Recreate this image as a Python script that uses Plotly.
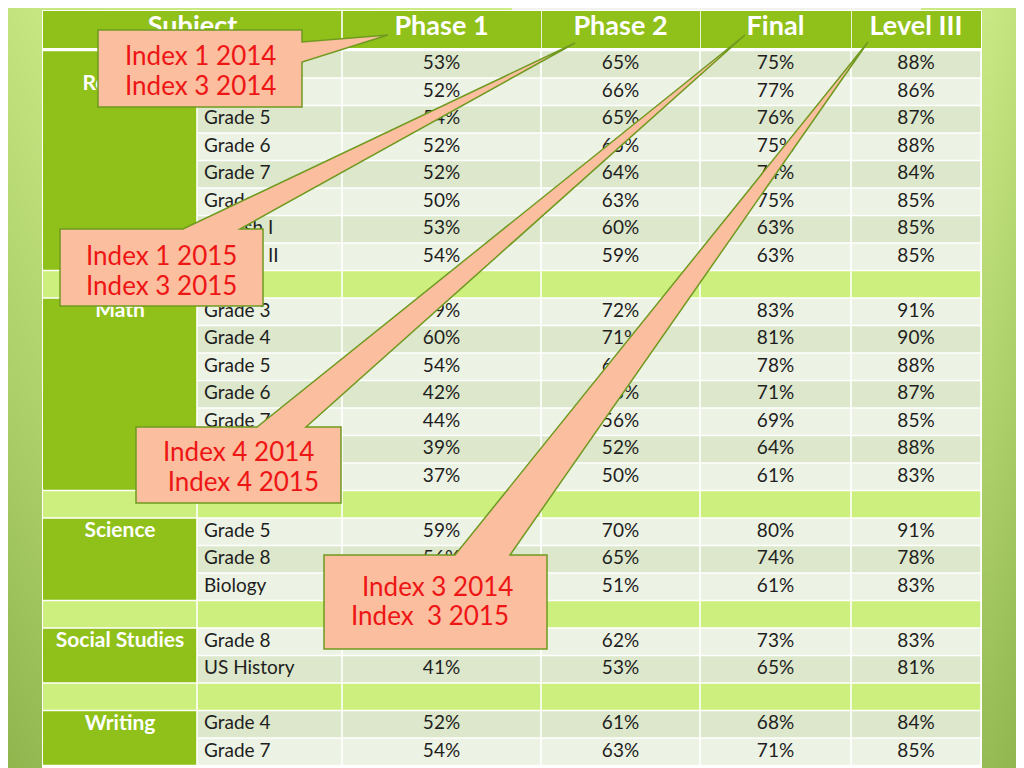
import plotly.graph_objects as go

# ---- table data (blank separator rows are None / "") ----
HEADERS = ["Subject", "Phase 1", "Phase 2", "Final", "Level III"]
SUBJECTS = ["Reading", "Math", "Science", "Social Studies", "Writing"]
SUBJECT_ROWS = [8, 7, 3, 2, 2]

ROW_LABELS = [
    "Grade 3", "Grade 4", "Grade 5", "Grade 6", "Grade 7", "Grade 8", "English I", "English II", "",
    "Grade 3", "Grade 4", "Grade 5", "Grade 6", "Grade 7", "Grade 8", "Algebra I", "",
    "Grade 5", "Grade 8", "Biology", "",
    "Grade 8", "US History", "",
    "Grade 4", "Grade 7",
]
PHASE_1 = [53, 52, 54, 52, 52, 50, 53, 54, None,
           59, 60, 54, 42, 44, 39, 37, None,
           59, 56, 40, None,
           50, 41, None,
           52, 54]
PHASE_2 = [65, 66, 65, 65, 64, 63, 60, 59, None,
           72, 71, 65, 53, 56, 52, 50, None,
           70, 65, 51, None,
           62, 53, None,
           61, 63]
FINAL = [75, 77, 76, 75, 74, 75, 63, 63, None,
         83, 81, 78, 71, 69, 64, 61, None,
         80, 74, 61, None,
         73, 65, None,
         68, 71]
LEVEL_III = [88, 86, 87, 88, 84, 85, 85, 85, None,
             91, 90, 88, 87, 85, 88, 83, None,
             91, 78, 83, None,
             83, 81, None,
             84, 85]

CALLOUT_LINES = [
    ["Index 1 2014", "Index 3 2014"],
    ["Index 1 2015", "Index 3 2015"],
    ["Index 4 2014", " Index 4 2015"],
    ["Index 3 2014", "Index  3 2015"],
]

# ---- layout / style ----
W, H = 1024, 768
PAGE_MARGIN = 8  # the html body offsets the figure by 8px
COL_EDGES = [43, 197, 342, 541, 700, 851, 981]
HEAD_TOP, HEAD_BOT = 11, 48
ROW_TOP, ROW_H = 50.5, 27.5
GAP = 0.8
# row shading: d = darker, l = lighter, - = blank lime separator
ROW_SHADE = "dldldldl-ldldldl-ldl-ld-dl"

GREEN = "#8fc11a"
LIME = "#cdef7e"
DARK = "#dce7cb"
LIGHT = "#edf3e4"
TEXT = "#1e1e1e"
TABLE_FONT = "Lato"
CALLOUT_FILL = "#fbbe9e"
CALLOUT_EDGE = "#6f9a1f"
CALLOUT_RED = "#ee1515"

fig = go.Figure()

# slide background gradient
fig.add_trace(go.Heatmap(
    x=[0, 40, 512, 990, 1024],
    y=[0, 384, 768],
    z=[[0.80, 0.86, 0.95, 0.88, 0.78],
       [0.55, 0.60, 0.70, 0.62, 0.52],
       [0.22, 0.28, 0.35, 0.30, 0.22]],
    zsmooth="best",
    colorscale=[[0, "#7ca33a"], [1, "#d3f28f"]],
    zmin=0, zmax=1, showscale=False, hoverinfo="skip",
))


def rect_path(x0, x1, y0, y1):
    return [x0, x1, x1, x0, x0, None], [y0, y0, y1, y1, y0, None]


def add_fill(rects, color):
    xs, ys = [], []
    for r in rects:
        px, py = rect_path(*r)
        xs += px
        ys += py
    fig.add_trace(go.Scatter(x=xs, y=ys, mode="lines", fill="toself", fillcolor=color,
                             line=dict(width=0), hoverinfo="skip", showlegend=False))


# grey title box at the top edge and the white table underlay
add_fill([(512, 921, 0, 11)], "#f2f2ee")
add_fill([(519, 914, 0, 8)], "#6b665a")
add_fill([(COL_EDGES[0] - 1, COL_EDGES[-1] + 1, HEAD_TOP - 1, H + 5)], "#ffffff")

n_rows = len(ROW_LABELS)


def row_y(i):
    return ROW_TOP + i * ROW_H + GAP, ROW_TOP + (i + 1) * ROW_H - GAP


# header cells ("Subject" spans the first two columns)
head_rects = [(COL_EDGES[0], COL_EDGES[2] - GAP, HEAD_TOP, HEAD_BOT)]
for c in range(2, len(COL_EDGES) - 1):
    head_rects.append((COL_EDGES[c] + GAP, COL_EDGES[c + 1], HEAD_TOP, HEAD_BOT))

# subject column: merged green blocks + lime separators
subject_rects, lime_rects, dark_rects, light_rects = [], [], [], []
start = 0
group_first_rows = []
for n in SUBJECT_ROWS:
    group_first_rows.append(start)
    y0 = row_y(start)[0]
    y1 = row_y(start + n - 1)[1]
    subject_rects.append((COL_EDGES[0], COL_EDGES[1] - GAP, y0, y1))
    start += n + 1

for i in range(n_rows):
    y0, y1 = row_y(i)
    if ROW_SHADE[i] == "-":
        lime_rects.append((COL_EDGES[0], COL_EDGES[1] - GAP, y0, y1))
        for c in range(1, len(COL_EDGES) - 1):
            lime_rects.append((COL_EDGES[c] + GAP, COL_EDGES[c + 1] - GAP, y0, y1))
        continue
    target = dark_rects if ROW_SHADE[i] == "d" else light_rects
    for c in range(1, len(COL_EDGES) - 1):
        target.append((COL_EDGES[c] + GAP, COL_EDGES[c + 1] - GAP, y0, y1))

add_fill(head_rects, GREEN)
add_fill(subject_rects, GREEN)
add_fill(lime_rects, LIME)
add_fill(dark_rects, DARK)
add_fill(light_rects, LIGHT)

# header text
head_x = [(COL_EDGES[0] + COL_EDGES[2]) / 2] + [(COL_EDGES[c] + COL_EDGES[c + 1]) / 2 for c in range(2, 6)]
fig.add_trace(go.Scatter(
    x=head_x, y=[(HEAD_TOP + HEAD_BOT) / 2 - 1] * len(HEADERS), text=HEADERS, mode="text",
    textfont=dict(family=TABLE_FONT, size=27, color="white", weight="bold"),
    hoverinfo="skip", showlegend=False,
))

row_centers = [ROW_TOP + (i + 0.5) * ROW_H for i in range(n_rows)]

# subject labels (Reading sits a little lower in its block)
label_shift = [0.75, 0, 0, 0, 0]
fig.add_trace(go.Scatter(
    x=[(COL_EDGES[0] + COL_EDGES[1]) / 2] * len(SUBJECTS),
    y=[row_centers[r] + s * ROW_H for r, s in zip(group_first_rows, label_shift)],
    text=SUBJECTS, mode="text",
    textfont=dict(family=TABLE_FONT, size=21, color="white", weight="bold"),
    hoverinfo="skip", showlegend=False,
))

# row labels
fig.add_trace(go.Scatter(
    x=[COL_EDGES[1] + 7] * n_rows, y=row_centers, text=ROW_LABELS, mode="text",
    textposition="middle right",
    textfont=dict(family=TABLE_FONT, size=19, color=TEXT),
    hoverinfo="skip", showlegend=False,
))

# values
for c, series in enumerate([PHASE_1, PHASE_2, FINAL, LEVEL_III]):
    cx = (COL_EDGES[c + 2] + COL_EDGES[c + 3]) / 2
    ys = [row_centers[i] for i, v in enumerate(series) if v is not None]
    txt = [f"{v}%" for v in series if v is not None]
    fig.add_trace(go.Scatter(
        x=[cx] * len(ys), y=ys, text=txt, mode="text",
        textfont=dict(family=TABLE_FONT, size=19, color=TEXT),
        hoverinfo="skip", showlegend=False,
    ))

# callout boxes with pointer wedges (box corners, wedge base, wedge tip)
callouts = [
    dict(box=(98, 302, 30, 107), path=[(302, 42), (388, 35), (302, 62)], side="right",
         text_x=[200, 200], text_y=[55, 85]),
    dict(box=(60, 263, 229, 306), path=[(183, 229), (575, 43), (240, 229)], side="top",
         text_x=[161, 161], text_y=[255, 285]),
    dict(box=(136, 341, 427, 503), path=[(257, 427), (745, 35), (306, 427)], side="top",
         text_x=[238, 240], text_y=[451, 481]),
    dict(box=(324, 547, 555, 649), path=[(455, 555), (868, 42), (510, 555)], side="top",
         text_x=[437, 430], text_y=[586, 615]),
]

for co, lines in zip(callouts, CALLOUT_LINES):
    x0, x1, y0, y1 = co["box"]
    (ax, ay), (tx, ty), (bx, by) = co["path"]
    if co["side"] == "right":
        pts = [(x0, y0), (x1, y0), (ax, ay), (tx, ty), (bx, by), (x1, y1), (x0, y1)]
    else:
        pts = [(x0, y0), (ax, ay), (tx, ty), (bx, by), (x1, y0), (x1, y1), (x0, y1)]
    d = "M " + " L ".join(f"{px},{py}" for px, py in pts) + " Z"
    fig.add_shape(type="path", path=d, xref="x", yref="y", layer="above",
                  fillcolor=CALLOUT_FILL, line=dict(color=CALLOUT_EDGE, width=1.5))
    for line, lx, ly in zip(lines, co["text_x"], co["text_y"]):
        fig.add_annotation(x=lx, y=ly, xref="x", yref="y", text=line.replace(" ", "&nbsp;"),
                           showarrow=False, font=dict(family="Lato", size=26, color=CALLOUT_RED))

# axes in screen pixels, shifted so marks land where the slide has them
fig.update_xaxes(range=[PAGE_MARGIN, W], visible=False, fixedrange=True)
fig.update_yaxes(range=[H, PAGE_MARGIN], visible=False, fixedrange=True)
fig.update_layout(
    width=W - PAGE_MARGIN, height=H - PAGE_MARGIN, margin=dict(l=0, r=0, t=0, b=0),
    paper_bgcolor="#a8d05a", plot_bgcolor="#a8d05a", showlegend=False,
)

fig.write_html("out.html")
